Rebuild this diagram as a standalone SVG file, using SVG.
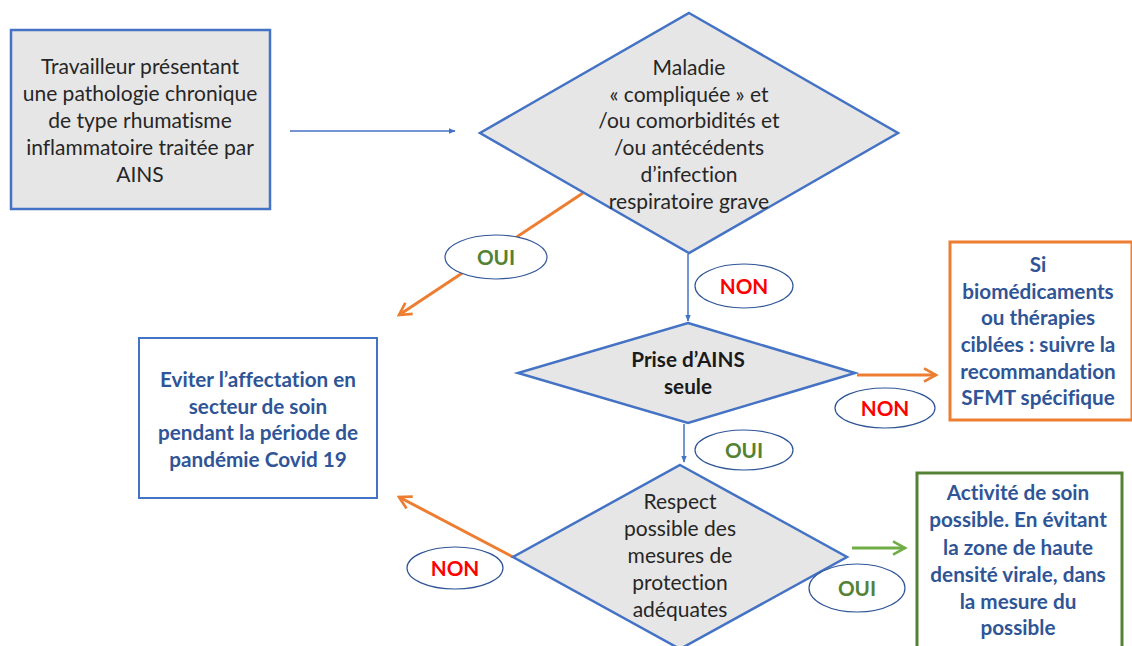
<svg xmlns="http://www.w3.org/2000/svg" width="1132" height="646" viewBox="0 0 1132 646">
<defs>
<style>
text{font-variant-ligatures:none;font-feature-settings:"liga" 0}
.t{font-family:Lato,"Liberation Sans",sans-serif;font-size:21px;fill:#262626;text-anchor:middle}
.b{font-family:Lato,"Liberation Sans",sans-serif;font-size:20.7px;font-weight:bold;fill:#2f5597;text-anchor:middle}
.bk{font-family:Lato,"Liberation Sans",sans-serif;font-size:20.7px;font-weight:bold;fill:#1a1a1a;text-anchor:middle}
.red{font-family:Lato,"Liberation Sans",sans-serif;font-size:20.7px;font-weight:bold;fill:#ff0000;text-anchor:middle}
.grn{font-family:Lato,"Liberation Sans",sans-serif;font-size:20.7px;font-weight:bold;fill:#548235;text-anchor:middle}
.shape{fill:#e7e6e6;stroke:#4472c4;stroke-width:2.5}
.lbl{fill:#fff;stroke:#2f5597;stroke-width:1.2}
.blue{stroke:#4472c4;stroke-width:1.5;fill:none}
.orange{stroke:#ed7d31;stroke-width:3;fill:none}
.green{stroke:#70ad47;stroke-width:3;fill:none}
</style>
<marker id="ab" viewBox="0 0 10 10" refX="9" refY="5" markerWidth="7" markerHeight="7" markerUnits="userSpaceOnUse" orient="auto"><path d="M0,1 L10,5 L0,9 z" fill="#4472c4"/></marker>
<marker id="ao" viewBox="0 0 12 12" refX="10" refY="6" markerWidth="16" markerHeight="16" markerUnits="userSpaceOnUse" orient="auto"><path d="M1,1 L10,6 L1,11" fill="none" stroke="#ed7d31" stroke-width="2"/></marker>
<marker id="ag" viewBox="0 0 12 12" refX="10" refY="6" markerWidth="16" markerHeight="16" markerUnits="userSpaceOnUse" orient="auto"><path d="M1,1 L10,6 L1,11" fill="none" stroke="#70ad47" stroke-width="2"/></marker>
</defs>
<rect width="1132" height="646" fill="#fff"/>

<g id="connectors">
<line class="blue" x1="290" y1="131" x2="455" y2="131" marker-end="url(#ab)"/>
<line class="orange" x1="583" y1="193" x2="399" y2="315" marker-end="url(#ao)"/>
<line class="blue" x1="688" y1="254" x2="688" y2="321" marker-end="url(#ab)"/>
<line class="orange" x1="857" y1="375" x2="936" y2="375" marker-end="url(#ao)"/>
<line class="blue" x1="684" y1="424" x2="684" y2="462" marker-end="url(#ab)"/>
<line class="orange" x1="513" y1="557" x2="399" y2="497" marker-end="url(#ao)"/>
<line class="green" x1="852" y1="548" x2="905" y2="548" marker-end="url(#ag)"/>
</g>

<g id="start">
<rect x="11" y="30" width="259" height="179" class="shape" stroke-width="2"/>
<text class="t" x="140" y="74">Travailleur présentant</text>
<text class="t" x="140" y="101">une pathologie chronique</text>
<text class="t" x="140" y="128">de type rhumatisme</text>
<text class="t" x="140" y="155">inflammatoire traitée par</text>
<text class="t" x="140" y="182">AINS</text>
</g>

<g id="decision1">
<polygon points="689,13 898,133 689,253 480,133" class="shape"/>
<text class="t" x="689" y="75">Maladie</text>
<text class="t" x="689" y="102">« compliquée » et</text>
<text class="t" x="689" y="128">/ou comorbidités et</text>
<text class="t" x="689" y="155">/ou antécédents</text>
<text class="t" x="689" y="182">d’infection</text>
<text class="t" x="689" y="209">respiratoire grave</text>
</g>

<g id="lbl-oui1">
<ellipse cx="496" cy="257" rx="51" ry="22" class="lbl"/>
<text class="grn" x="496" y="265">OUI</text>
</g>

<g id="lbl-non1">
<ellipse cx="744" cy="286" rx="49" ry="22" class="lbl"/>
<text class="red" x="744" y="294">NON</text>
</g>

<g id="decision2">
<polygon points="688,323 855,373 688,423 518,373" class="shape"/>
<text class="bk" x="688" y="367">Prise d’AINS</text>
<text class="bk" x="688" y="394">seule</text>
</g>

<g id="lbl-non2">
<ellipse cx="885" cy="408" rx="50" ry="20" class="lbl"/>
<text class="red" x="885" y="416">NON</text>
</g>

<g id="biomed">
<rect x="950" y="242" width="182" height="178" fill="#fff" stroke="#ed7d31" stroke-width="3"/>
<text class="b" x="1038" y="272">Si</text>
<text class="b" x="1038" y="299">biomédicaments</text>
<text class="b" x="1038" y="325">ou thérapies</text>
<text class="b" x="1038" y="352">ciblées : suivre la</text>
<text class="b" x="1038" y="379">recommandation</text>
<text class="b" x="1038" y="405">SFMT spécifique</text>
</g>

<g id="lbl-oui2">
<ellipse cx="744" cy="450" rx="49" ry="20" class="lbl"/>
<text class="grn" x="744" y="458">OUI</text>
</g>

<g id="eviter">
<rect x="139" y="338" width="238" height="160" fill="#fff" stroke="#4472c4" stroke-width="2"/>
<text class="b" x="258" y="387">Eviter l’affectation en</text>
<text class="b" x="258" y="414">secteur de soin</text>
<text class="b" x="258" y="440">pendant la période de</text>
<text class="b" x="258" y="467">pandémie Covid 19</text>
</g>

<g id="decision3">
<polygon points="680,465 847,557 680,649 513,557" class="shape"/>
<text class="t" x="680" y="509">Respect</text>
<text class="t" x="680" y="536">possible des</text>
<text class="t" x="680" y="563">mesures de</text>
<text class="t" x="680" y="590">protection</text>
<text class="t" x="680" y="617">adéquates</text>
</g>

<g id="lbl-non3">
<ellipse cx="455" cy="568" rx="48" ry="21" class="lbl"/>
<text class="red" x="455" y="576">NON</text>
</g>

<g id="lbl-oui3">
<ellipse cx="857" cy="588" rx="48" ry="24" class="lbl"/>
<text class="grn" x="857" y="596">OUI</text>
</g>

<g id="activite">
<rect x="917" y="473" width="205" height="190" fill="#fff" stroke="#548235" stroke-width="3"/>
<text class="b" x="1018" y="500">Activité de soin</text>
<text class="b" x="1018" y="527">possible. En évitant</text>
<text class="b" x="1018" y="555">la zone de haute</text>
<text class="b" x="1018" y="582">densité virale, dans</text>
<text class="b" x="1018" y="609">la mesure du</text>
<text class="b" x="1018" y="635">possible</text>
</g>
</svg>
